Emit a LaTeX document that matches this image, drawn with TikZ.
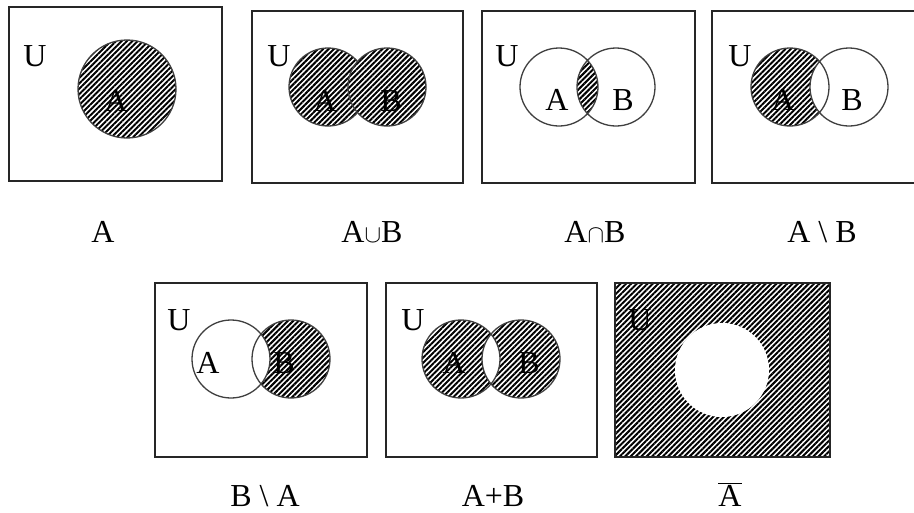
\documentclass[tikz,border=0pt]{standalone}
\usepackage{fontspec}
\setmainfont{Liberation Serif}
\usetikzlibrary{patterns.meta}

\begin{document}
\begin{tikzpicture}[x = 1pt, y = -1pt]
      \tikzset{BoxStyle/.style   = {draw = black!85, line width = 1.8pt},
               RingStyle/.style  = {draw = black!75, line width = 1.3pt},
               HatchStyle/.style = {pattern = {Lines[angle = 45, distance = 3.8pt,
                                    line width = 2pt]}},
               TextStyle/.style  = {font = \fontsize{32}{36}\selectfont,
                                    inner sep = 0pt}}
      \useasboundingbox (0,0) rectangle (914,512);
      \clip (0,0) rectangle (914,512);
      % A
      \draw[BoxStyle] (9,7) rectangle (222,181);
      \fill[HatchStyle] (127,89) circle (49pt);
      \draw[RingStyle] (127,89) circle (49pt);
      % A u B
      \draw[BoxStyle] (252,11) rectangle (463,183);
      \fill[HatchStyle] (328,87) circle (39pt);
      \draw[RingStyle] (328,87) circle (39pt);
      \fill[white] (387,87) circle (39pt);
      \fill[HatchStyle] (387,87) circle (39pt);
      \draw[RingStyle] (387,87) circle (39pt);
      % A n B
      \draw[BoxStyle] (482,11) rectangle (695,183);
      \begin{scope}
        \clip (559,87) circle (39pt);
        \fill[HatchStyle] (616,87) circle (39pt);
      \end{scope}
      \draw[RingStyle] (559,87) circle (39pt) (616,87) circle (39pt);
      % A \ B
      \draw[BoxStyle] (712,11) rectangle (925,183);
      \fill[HatchStyle] (790,87) circle (39pt);
      \begin{scope}
        \clip (790,87) circle (39pt);
        \fill[white] (849,87) circle (39pt);
      \end{scope}
      \draw[RingStyle] (790,87) circle (39pt) (849,87) circle (39pt);
      % B \ A
      \draw[BoxStyle] (155,283) rectangle (367,457);
      \fill[HatchStyle] (291,359) circle (39pt);
      \begin{scope}
        \clip (291,359) circle (39pt);
        \fill[white] (231,359) circle (39pt);
      \end{scope}
      \draw[RingStyle] (231,359) circle (39pt) (291,359) circle (39pt);
      % A + B
      \draw[BoxStyle] (386,283) rectangle (597,457);
      \fill[HatchStyle] (461,359) circle (39pt) (521,359) circle (39pt);
      \begin{scope}
        \clip (461,359) circle (39pt);
        \fill[white] (521,359) circle (39pt);
      \end{scope}
      \draw[RingStyle] (461,359) circle (39pt) (521,359) circle (39pt);
      % complement
      \fill[HatchStyle] (615,283) rectangle (830,457);
      \fill[white] (722,370) circle (47pt);
      \draw[BoxStyle] (615,283) rectangle (830,457);
      % letters in the boxes
      \node[TextStyle] (U1) at (35,56) {U};
      \node[TextStyle] (A1) at (116,101) {A};
      \node[TextStyle] (U2) at (279,56) {U};
      \node[TextStyle] (A2) at (325,101) {A};
      \node[TextStyle] (B2) at (391,101) {B};
      \node[TextStyle] (U3) at (507,56) {U};
      \node[TextStyle] (A3) at (557,100) {A};
      \node[TextStyle] (B3) at (623,100) {B};
      \node[TextStyle] (U4) at (740,56) {U};
      \node[TextStyle] (A4) at (783,100) {A};
      \node[TextStyle] (B4) at (852,100) {B};
      \node[TextStyle] (U5) at (179,320) {U};
      \node[TextStyle] (A5) at (208,363) {A};
      \node[TextStyle] (B5) at (284,363) {B};
      \node[TextStyle] (U6) at (413,320) {U};
      \node[TextStyle] (A6) at (454,363) {A};
      \node[TextStyle] (B6) at (529,363) {B};
      \node[TextStyle] (U7) at (640,320) {U};
      % names under the boxes
      \node[TextStyle, anchor = base] (L1) at (103,242) {A};
      \node[TextStyle, anchor = base] (L2) at (372,242) {A$\cup$B};
      \node[TextStyle, anchor = base] (L3) at (595,242) {A$\cap$B};
      \node[TextStyle, anchor = base] (L4) at (822,242) {A \textbackslash{} B};
      \node[TextStyle, anchor = base] (L5) at (265,506) {B \textbackslash{} A};
      \node[TextStyle, anchor = base] (L6) at (493,506) {A+B};
      \node[TextStyle, anchor = base] (L7) at (730,506) {$\overline{\mbox{A}}$};
    \end{tikzpicture}
\end{document}
